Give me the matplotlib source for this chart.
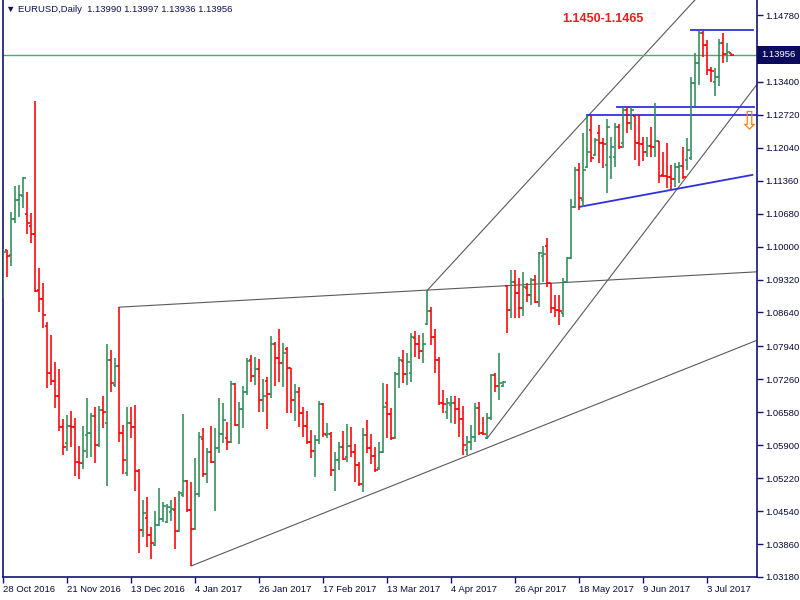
import matplotlib
matplotlib.use("Agg")
import matplotlib.pyplot as plt
import numpy as np

# EURUSD daily bars, 28 Oct 2016 .. Jul 2017
opens = [
    1.0910, 1.0993, 1.0983, 1.1057, 1.1096, 1.1104, 1.1067, 1.1042, 1.1026, 1.0910,
    1.0892, 1.0836, 1.0739, 1.0723, 1.0692, 1.0628, 1.0595, 1.0630, 1.0628, 1.0555,
    1.0553, 1.0611, 1.0615, 1.0650, 1.0590, 1.0663, 1.0636, 1.0766, 1.0714, 1.0754,
    1.0615, 1.0533, 1.0636, 1.0628, 1.0537, 1.0415, 1.0440, 1.0405, 1.0384, 1.0425,
    1.0438, 1.0432, 1.0452, 1.0456, 1.0413, 1.0487, 1.0516, 1.0456, 1.0417, 1.0490,
    1.0603, 1.0531, 1.0576, 1.0555, 1.0584, 1.0613, 1.0605, 1.0597, 1.0716, 1.0632,
    1.0665, 1.0700, 1.0766, 1.0733, 1.0747, 1.0683, 1.0723, 1.0696, 1.0799, 1.0770,
    1.0759, 1.0789, 1.0750, 1.0683, 1.0700, 1.0656, 1.0630, 1.0597, 1.0578, 1.0601,
    1.0675, 1.0611, 1.0613, 1.0539, 1.0560, 1.0586, 1.0566, 1.0588, 1.0576, 1.0549,
    1.0510, 1.0611, 1.0584, 1.0568, 1.0543, 1.0576, 1.0677, 1.0654, 1.0605, 1.0737,
    1.0764, 1.0737, 1.0739, 1.0811, 1.0799, 1.0784, 1.0840, 1.0867, 1.0813, 1.0766,
    1.0677, 1.0659, 1.0673, 1.0677, 1.0665, 1.0644, 1.0580, 1.0597, 1.0607, 1.0667,
    1.0615, 1.0605, 1.0646, 1.0735, 1.0712, 1.0712, 1.0919, 1.0869, 1.0927, 1.0904,
    1.0873, 1.0915, 1.0900, 1.0931, 1.0886, 1.0981, 1.1002, 1.0925, 1.0873, 1.0869,
    1.0863, 1.0927, 1.0977, 1.1082, 1.1158, 1.1096, 1.1164, 1.1241, 1.1189, 1.1234,
    1.1214, 1.1168, 1.1185, 1.1185, 1.1247, 1.1214, 1.1282, 1.1255, 1.1270, 1.1214,
    1.1212, 1.1195, 1.1208, 1.1205, 1.1218, 1.1148, 1.1146, 1.1144, 1.1140, 1.1164,
    1.1166, 1.1179, 1.1183, 1.1338, 1.1379, 1.1441, 1.1416, 1.1364, 1.1340, 1.1350,
    1.1420, 1.1397, 1.13990,
]
highs = [
    1.0995, 1.0993, 1.1071, 1.1125, 1.1127, 1.1144, 1.1113, 1.1069, 1.1300, 1.0956,
    1.0925, 1.0844, 1.0817, 1.0762, 1.0747, 1.0644, 1.0652, 1.0661, 1.0646, 1.0588,
    1.0630, 1.0687, 1.0656, 1.0669, 1.0671, 1.0692, 1.0799, 1.0787, 1.0770, 1.0875,
    1.0632, 1.0669, 1.0669, 1.0673, 1.0541, 1.0477, 1.0483, 1.0421, 1.0454, 1.0502,
    1.0473, 1.0469, 1.0477, 1.0483, 1.0496, 1.0654, 1.0518, 1.0514, 1.0564, 1.0617,
    1.0626, 1.0584, 1.0630, 1.0626, 1.0687, 1.0677, 1.0638, 1.0723, 1.0718, 1.0679,
    1.0712, 1.0770, 1.0776, 1.0772, 1.0768, 1.0727, 1.0731, 1.0815, 1.0803, 1.0830,
    1.0801, 1.0793, 1.0750, 1.0716, 1.0710, 1.0669, 1.0661, 1.0621, 1.0611, 1.0681,
    1.0677, 1.0636, 1.0617, 1.0576, 1.0597, 1.0619, 1.0634, 1.0628, 1.0593, 1.0555,
    1.0626, 1.0642, 1.0613, 1.0586, 1.0597, 1.0718, 1.0716, 1.0667, 1.0741, 1.0772,
    1.0787, 1.0780, 1.0822, 1.0826, 1.0817, 1.0822, 1.0910, 1.0875, 1.0830, 1.0772,
    1.0704, 1.0687, 1.0692, 1.0692, 1.0687, 1.0671, 1.0609, 1.0632, 1.0677, 1.0679,
    1.0648, 1.0656, 1.0737, 1.0739, 1.0780, 1.0723, 1.0921, 1.0952, 1.0952, 1.0935,
    1.0948, 1.0925, 1.0935, 1.0941, 1.0989, 1.1002, 1.1018, 1.0925, 1.0900, 1.0900,
    1.0935, 1.0979, 1.1098, 1.1164, 1.1173, 1.1234, 1.1269, 1.1272, 1.1224, 1.1251,
    1.1224, 1.1263, 1.1226, 1.1255, 1.1253, 1.1288, 1.1288, 1.1288, 1.1272, 1.1272,
    1.1226, 1.1226, 1.1247, 1.1296, 1.1218, 1.1195, 1.1214, 1.1168, 1.1173, 1.1175,
    1.1205, 1.1224, 1.1350, 1.1400, 1.1445, 1.1445, 1.1426, 1.1371, 1.1369, 1.1428,
    1.1441, 1.1420, 1.13997,
]
lows = [
    1.0894, 1.0937, 1.0960, 1.1049, 1.1061, 1.1080, 1.1026, 1.1007, 1.0906, 1.0865,
    1.0832, 1.0708, 1.0714, 1.0667, 1.0619, 1.0570, 1.0578, 1.0586, 1.0526, 1.0520,
    1.0541, 1.0564, 1.0566, 1.0553, 1.0586, 1.0626, 1.0506, 1.0700, 1.0710, 1.0597,
    1.0531, 1.0526, 1.0605, 1.0495, 1.0368, 1.0401, 1.0380, 1.0355, 1.0382, 1.0423,
    1.0432, 1.0429, 1.0434, 1.0376, 1.0411, 1.0483, 1.0452, 1.0341, 1.0415, 1.0483,
    1.0524, 1.0512, 1.0553, 1.0454, 1.0574, 1.0595, 1.0580, 1.0595, 1.0630, 1.0593,
    1.0626, 1.0694, 1.0720, 1.0714, 1.0659, 1.0659, 1.0624, 1.0687, 1.0712, 1.0720,
    1.0710, 1.0656, 1.0656, 1.0640, 1.0628, 1.0607, 1.0593, 1.0564, 1.0524, 1.0593,
    1.0607, 1.0605, 1.0526, 1.0495, 1.0539, 1.0560, 1.0555, 1.0566, 1.0514, 1.0506,
    1.0494, 1.0574, 1.0551, 1.0535, 1.0539, 1.0574, 1.0605, 1.0601, 1.0603, 1.0708,
    1.0718, 1.0714, 1.0720, 1.0772, 1.0768, 1.0759, 1.0838, 1.0797, 1.0739, 1.0673,
    1.0656, 1.0644, 1.0636, 1.0634, 1.0607, 1.0570, 1.0570, 1.0580, 1.0597, 1.0611,
    1.0611, 1.0603, 1.0642, 1.0700, 1.0683, 1.0710, 1.0822, 1.0852, 1.0852, 1.0852,
    1.0857, 1.0886, 1.0879, 1.0884, 1.0875, 1.0927, 1.0917, 1.0863, 1.0855, 1.0838,
    1.0855, 1.0925, 1.0975, 1.1080, 1.1075, 1.1082, 1.1162, 1.1175, 1.1187, 1.1173,
    1.1162, 1.1111, 1.1139, 1.1164, 1.1201, 1.1203, 1.1234, 1.1241, 1.1179, 1.1166,
    1.1177, 1.1185, 1.1185, 1.1185, 1.1131, 1.1144, 1.1121, 1.1119, 1.1123, 1.1131,
    1.1140, 1.1158, 1.1179, 1.1290, 1.1333, 1.1391, 1.1354, 1.1340, 1.1311, 1.1331,
    1.1379, 1.1381, 1.13936,
]
closes = [
    1.0989, 1.0981, 1.1057, 1.1096, 1.1106, 1.1142, 1.1049, 1.1026, 1.0908, 1.0892,
    1.0859, 1.0739, 1.0723, 1.0692, 1.0628, 1.0586, 1.0630, 1.0628, 1.0555, 1.0553,
    1.0578, 1.0615, 1.0650, 1.0590, 1.0663, 1.0659, 1.0766, 1.0718, 1.0754, 1.0615,
    1.0560, 1.0636, 1.0628, 1.0537, 1.0415, 1.0450, 1.0405, 1.0388, 1.0425, 1.0438,
    1.0465, 1.0463, 1.0459, 1.0413, 1.0492, 1.0516, 1.0456, 1.0417, 1.0490, 1.0607,
    1.0531, 1.0576, 1.0555, 1.0584, 1.0613, 1.0642, 1.0597, 1.0716, 1.0632, 1.0665,
    1.0700, 1.0764, 1.0733, 1.0747, 1.0683, 1.0692, 1.0696, 1.0799, 1.0770, 1.0759,
    1.0780, 1.0750, 1.0683, 1.0700, 1.0656, 1.0630, 1.0597, 1.0578, 1.0601, 1.0675,
    1.0613, 1.0613, 1.0539, 1.0560, 1.0586, 1.0562, 1.0588, 1.0576, 1.0549, 1.0510,
    1.0611, 1.0584, 1.0568, 1.0539, 1.0576, 1.0669, 1.0654, 1.0605, 1.0737, 1.0766,
    1.0737, 1.0762, 1.0813, 1.0799, 1.0784, 1.0799, 1.0867, 1.0813, 1.0766, 1.0677,
    1.0675, 1.0677, 1.0677, 1.0665, 1.0644, 1.0590, 1.0597, 1.0607, 1.0667, 1.0615,
    1.0613, 1.0646, 1.0735, 1.0712, 1.0718, 1.0720, 1.0869, 1.0927, 1.0904, 1.0873,
    1.0917, 1.0900, 1.0931, 1.0886, 1.0987, 1.0985, 1.0925, 1.0873, 1.0869, 1.0867,
    1.0927, 1.0977, 1.1082, 1.1158, 1.1100, 1.1158, 1.1195, 1.1183, 1.1220, 1.1214,
    1.1212, 1.1247, 1.1205, 1.1247, 1.1205, 1.1282, 1.1255, 1.1282, 1.1214, 1.1212,
    1.1195, 1.1208, 1.1205, 1.1218, 1.1146, 1.1146, 1.1144, 1.1140, 1.1164, 1.1166,
    1.1144, 1.1199, 1.1338, 1.1379, 1.1441, 1.1416, 1.1364, 1.1362, 1.1350, 1.1420,
    1.1397, 1.1401, 1.13956,
]

date_ticks = [0, 16, 32, 48, 64, 80, 96, 112, 128, 144, 160, 176]
date_labels = ["28 Oct 2016", "21 Nov 2016", "13 Dec 2016", "4 Jan 2017",
               "26 Jan 2017", "17 Feb 2017", "13 Mar 2017", "4 Apr 2017",
               "26 Apr 2017", "18 May 2017", "9 Jun 2017", "3 Jul 2017"]
price_ticks = [1.1478, 1.1409, 1.1340, 1.1272, 1.1204, 1.1136, 1.1068, 1.1000, 1.0932,
               1.0864, 1.0794, 1.0726, 1.0658, 1.0590, 1.0522, 1.0454, 1.0386, 1.0318]

# trend lines drawn on the chart: (bar0, price0, bar1, price1)
grey_lines = [(29, 1.0875, 188.5, 1.0948),
              (47, 1.0341, 188.5, 1.0807),
              (106, 1.0910, 175, 1.1528),
              (121, 1.0605, 188.5, 1.1336)]
blue_lines = [(172, 1.1447, 187.5, 1.1447),
              (153.5, 1.1288, 187.75, 1.1288),
              (146, 1.1272, 188.5, 1.1272),
              (144, 1.1082, 187.25, 1.1148)]
bid = 1.13956

plt.rcParams['font.family'] = ['Liberation Sans', 'DejaVu Sans']
navy = '#14146e'

fig = plt.figure(figsize=(8, 6), dpi=100)
ax = fig.add_axes([3 / 800, 23 / 600, 754 / 800, 577 / 600])

o = np.array(opens)
h = np.array(highs)
l = np.array(lows)
c = np.array(closes)
x = np.arange(len(o))
cols = np.where(c >= o, '#2e8b57', '#ff0000')

ax.vlines(x, l, h, colors=cols, linewidth=1.15, zorder=3)
ax.hlines(o, x - 0.55, x, colors=cols, linewidth=1.15, zorder=3)
ax.hlines(c, x, x + 0.55, colors=cols, linewidth=1.15, zorder=3)

for x0, y0, x1, y1 in grey_lines:
    ax.plot([x0, x1], [y0, y1], color='#5a5a5a', linewidth=0.8, zorder=2)
for x0, y0, x1, y1 in blue_lines:
    ax.plot([x0, x1], [y0, y1], color='#3030e0', linewidth=1.3, zorder=2)

ax.axhline(bid, color='#3cb371', linewidth=1.0, zorder=2)

ax.set_xlim(-0.1, 188.4)
ax.set_ylim(1.0318, 1.1509)

ax.yaxis.tick_right()
ax.set_yticks(price_ticks)
ax.set_yticklabels([f"{v:.5f}" for v in price_ticks])
ax.set_xticks(date_ticks)
ax.set_xticklabels(date_labels, ha='left')
ax.tick_params(axis='both', length=4, width=1, color=navy, labelcolor='#0a0a3c',
               labelsize=6.8)
ax.tick_params(axis='y', pad=2)
ax.tick_params(axis='x', pad=2)

for side in ['left', 'bottom', 'right']:
    ax.spines[side].set_color(navy)
    ax.spines[side].set_linewidth(1.2)
ax.spines['top'].set_visible(False)

ax.text(1.006, bid, "1.13956", transform=ax.get_yaxis_transform(), ha='left',
        va='center', color='white', fontsize=6.8, clip_on=False, zorder=6,
        bbox=dict(boxstyle='square,pad=0.45', fc='#0b0b5e', ec='none'))

ax.text(0.004, 0.983, "\u25bc EURUSD,Daily  1.13990 1.13997 1.13936 1.13956",
        transform=ax.transAxes, ha='left', va='center', fontsize=6.8, color='#10105a')

ax.text(139.75, 1.1470, "1.1450-1.1465", color='#ee1c1c', fontsize=9,
        fontweight='bold', ha='left', va='center')
ax.text(186.5, 1.1257, "\u21e9", color='#ff8000', fontsize=18, ha='center',
        va='center', family='DejaVu Sans')

fig.savefig("out.png", dpi=100)
